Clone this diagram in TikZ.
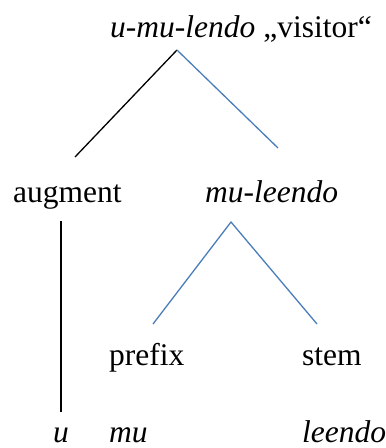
\documentclass[tikz,border=0pt]{standalone}
\usepackage{fontspec}
\setmainfont{Liberation Serif}
\usepackage{xcolor}
\definecolor{treeblue}{RGB}{74,126,187}
\tikzset{
  word/.style={inner sep=0pt, anchor=base west, font=\fontsize{31.5}{36}\selectfont},
  branch/.style={line width=1.3pt},
  bluebranch/.style={branch, treeblue}
}

\begin{document}
\begin{tikzpicture}[x=1pt,y=-1pt]
				\useasboundingbox (0,0) rectangle (386,448);
				% nodes
				\node[word] (umulendo) at (110,37) {\textit{u-mu-lendo} „visitor“};
				\node[word] (augment)  at (13,202)  {augment};
				\node[word] (muleendo) at (205,202) {\textit{mu-leendo}};
				\node[word] (prefix)   at (109,365) {prefix};
				\node[word] (stem)     at (302,365) {stem};
				\node[word] (u)        at (53,442)  {\textit{u}};
				\node[word] (mu)       at (109,442) {\textit{mu}};
				\node[word] (leendo)   at (302,442) {\textit{leendo}};
				% branch ends
				\coordinate (top-apex)   at (177,50);
				\coordinate (aug-end)    at (75,157);
				\coordinate (mul-end)    at (278,148);
				\coordinate (mul-apex)   at (231,222);
				\coordinate (pre-end)    at (153,324);
				\coordinate (stem-end)   at (317,324);
				\coordinate (aug-down)   at (61,221);
				\coordinate (u-up)       at (61,412);
				% branches
				\draw[branch]     (top-apex) -- (aug-end);
				\draw[bluebranch] (top-apex) -- (mul-end);
				\draw[bluebranch] (pre-end) -- (mul-apex) -- (stem-end);
				\draw[branch]     (aug-down) -- (u-up);
\end{tikzpicture}
\end{document}
